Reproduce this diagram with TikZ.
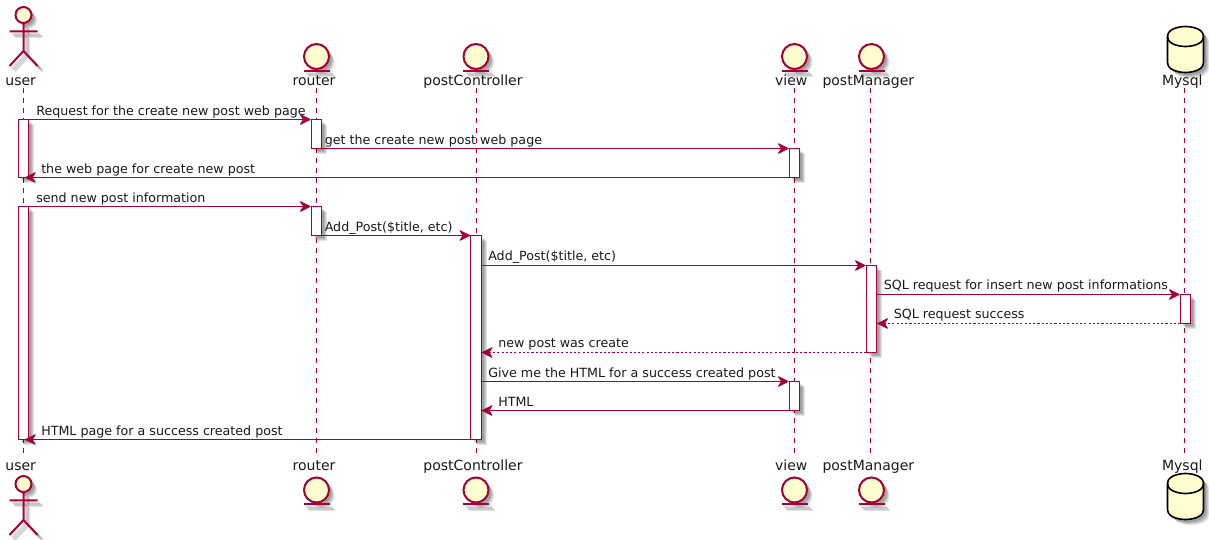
\documentclass[tikz,border=0pt]{standalone}
\usepackage{fontspec}
\setmainfont{DejaVu Sans}
\usetikzlibrary{arrows.meta}
\definecolor{umlred}{HTML}{A80036}
\definecolor{umlfill}{HTML}{FEFECE}
\tikzset{
  lifeline/.style={draw=umlred,line width=.75pt,dash pattern=on 3.75pt off 3.75pt},
  actbox/.style={draw=umlred,fill=white,line width=.75pt,minimum width=7.75pt,inner sep=0pt,outer sep=0pt},
  msg/.style={draw=umlred,line width=.75pt,-{Stealth[length=9pt,width=9pt,inset=3pt,round]},shorten >=.6pt},
  retmsg/.style={msg,dash pattern=on 1.6pt off 1.6pt},
  overtip/.style={shorten >=-2.6pt},
  msgtext/.style={font=\fontsize{9.5pt}{12pt}\selectfont,anchor=base west,inner sep=0pt,text=black!90},
  nametext/.style={font=\fontsize{10.5pt}{13pt}\selectfont,anchor=base,inner sep=0pt,text=black!90},
  figline/.style={draw=umlred,line width=1.5pt,fill=umlfill},
  dbline/.style={draw=black,line width=1.2pt,fill=umlfill},
}
\newcommand{\softshade}[2]{\foreach \d in {2.5,3.5,4.5,5.5}{\path[black,opacity=.11,shift={(\d,\d)},#1] #2;}}
\newcommand{\actoricon}[2]{%
  \begin{scope}[shift={(#1,#2)}]
    \softshade{fill}{(0,0) circle[radius=8]}
    \softshade{draw,line width=1.5pt}{(-14,16.3) -- (14,16.3) (0,8) -- (0,36) (-14,51) -- (0,36) -- (14,51)}
    \draw[figline] (0,0) circle[radius=8];
    \draw[figline,fill=none] (-14,16.3) -- (14,16.3) (0,8) -- (0,36) (-14,51) -- (0,36) -- (14,51);
  \end{scope}}
\newcommand{\entityicon}[2]{%
  \begin{scope}[shift={(#1,#2)}]
    \softshade{fill}{(0,0) circle[radius=12.5]}
    \softshade{fill}{(-13,13) rectangle (13,15)}
    \draw[figline] (0,0) circle[radius=12.5];
    \draw[figline,fill=none] (-13,14) -- (13,14);
  \end{scope}}
\newcommand{\dbicon}[1]{%
  \begin{scope}[shift={(1167.5,#1)}]
    \softshade{fill}{(0,10) .. controls (0,0) and (18,0) .. (18,0) .. controls (18,0) and (36,0) .. (36,10) -- (36,36) .. controls (36,46) and (18,46) .. (18,46) .. controls (18,46) and (0,46) .. (0,36) -- cycle}
    \draw[dbline] (0,10) .. controls (0,0) and (18,0) .. (18,0) .. controls (18,0) and (36,0) .. (36,10) -- (36,36) .. controls (36,46) and (18,46) .. (18,46) .. controls (18,46) and (0,46) .. (0,36) -- cycle;
    \draw[dbline,fill=none] (0,10) .. controls (0,20) and (18,20) .. (18,20) .. controls (18,20) and (36,20) .. (36,10);
  \end{scope}}
\newcommand{\activation}[4]{%
  \softshade{fill}{(#2-5,#3) rectangle (#2+5,#4)}
  \node[actbox,minimum height={(#4-#3)*0.75pt}] (#1) at (#2,{(#3+#4)/2}) {};}
\begin{document}
\begin{tikzpicture}[x=.75pt,y=-.75pt]
\useasboundingbox (0,0) rectangle (1209,539);
% lifeline ends
\coordinate (ut) at (23.5,88);   \coordinate (ub) at (23.5,456);
\coordinate (rt) at (316.5,88);  \coordinate (rb) at (316.5,456);
\coordinate (pt) at (476,88);    \coordinate (pb) at (476,456);
\coordinate (vt) at (794.5,88);  \coordinate (vb) at (794.5,456);
\coordinate (mt) at (870.5,88);  \coordinate (mb) at (870.5,456);
\coordinate (dt) at (1184.5,88); \coordinate (db) at (1184.5,456);
\draw[lifeline] (ut) -- (ub);
\draw[lifeline] (rt) -- (rb);
\draw[lifeline] (pt) -- (pb);
\draw[lifeline] (vt) -- (vb);
\draw[lifeline] (mt) -- (mb);
\draw[lifeline] (dt) -- (db);
% participant icons
\actoricon{23.5}{15}
\actoricon{23.5}{484}
\entityicon{316.5}{56.5}
\entityicon{316.5}{490}
\entityicon{476}{56.5}
\entityicon{476}{490}
\entityicon{794.5}{56.5}
\entityicon{794.5}{490}
\entityicon{871.5}{56.5}
\entityicon{871.5}{490}
\dbicon{26.5}
\dbicon{473.5}
% participant names
\node[nametext] (n1) at (20.7,85) {user};
\node[nametext] (n2) at (314,85) {router};
\node[nametext] (n3) at (473,85) {postController};
\node[nametext] (n4) at (791.3,85) {view};
\node[nametext] (n5) at (868.3,85) {postManager};
\node[nametext] (n6) at (1182.3,85) {Mysql};
\node[nametext] (n1b) at (20.7,470) {user};
\node[nametext] (n2b) at (314,470) {router};
\node[nametext] (n3b) at (473,470) {postController};
\node[nametext] (n4b) at (791.3,470) {view};
\node[nametext] (n5b) at (868.3,470) {postManager};
\node[nametext] (n6b) at (1182.3,470) {Mysql};
% activations
\activation{ua}{23.5}{119.5}{177.5}
\activation{ub}{23.5}{206.5}{439.5}
\activation{ra}{316.5}{119.5}{148.5}
\activation{rc}{316.5}{206.5}{235.5}
\activation{vc}{794.5}{148.5}{177.5}
\activation{vd}{794.5}{381.5}{410.5}
\activation{pc}{476}{235.5}{439.5}
\activation{pm}{871.5}{265.5}{352.5}
\activation{my}{1185.5}{294.5}{323.5}
% messages
\draw[msg] (ua.north east) -- (ra.north west);
\draw[msg] (ra.south east) -- (vc.north west);
\draw[msg,overtip] (vc.south west) -- (ua.south east);
\draw[msg] (ub.north east) -- (rc.north west);
\draw[msg] (rc.south east) -- (pc.north west);
\draw[msg] (pm.north west -| pc.east) -- (pm.north west);
\draw[msg] (my.north west -| pm.east) -- (my.north west);
\draw[retmsg] (my.south west) -- (my.south west -| pm.east);
\draw[retmsg] (pm.south west) -- (pm.south west -| pc.east);
\draw[msg] (vd.north west -| pc.east) -- (vd.north west);
\draw[msg] (vd.south west) -- (vd.south west -| pc.east);
\draw[msg,overtip] (pc.south west) -- (ub.south east);
% message labels
\node[msgtext] (t1) at (36,115) {Request for the create new post web page};
\node[msgtext] (t2) at (324.5,144) {get the create new post web page};
\node[msgtext] (t3) at (41,173) {the web page for create new post};
\node[msgtext] (t4) at (36,202) {send new post information};
\node[msgtext] (t5) at (324.5,231) {Add\_Post(\$title, etc)};
\node[msgtext] (t6) at (488,260.5) {Add\_Post(\$title, etc)};
\node[msgtext] (t7) at (883.5,289.5) {SQL request for insert new post informations};
\node[msgtext] (t8) at (893.5,318.5) {SQL request success};
\node[msgtext] (t9) at (498,347.5) {new post was create};
\node[msgtext] (t10) at (488,377) {Give me the HTML for a success created post};
\node[msgtext] (t11) at (498,406) {HTML};
\node[msgtext] (t12) at (41,435) {HTML page for a success created post};
\end{tikzpicture}
\end{document}
